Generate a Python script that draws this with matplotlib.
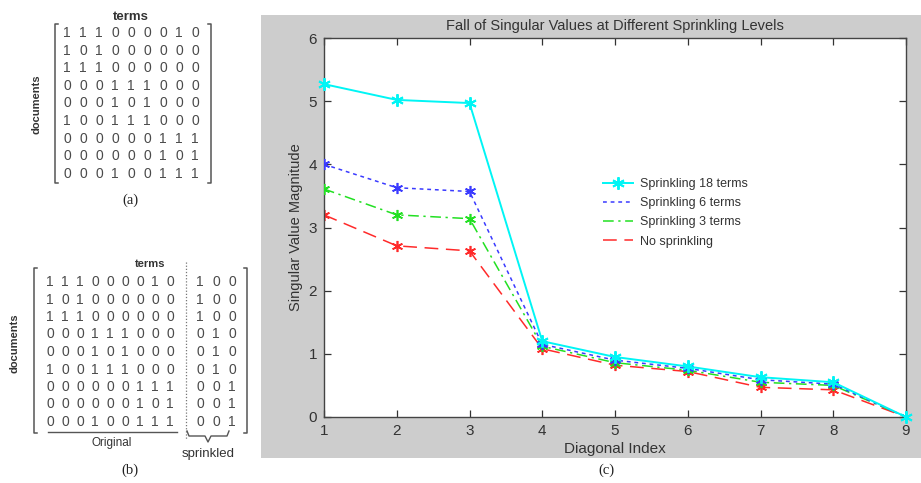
import matplotlib
matplotlib.use("Agg")
import matplotlib.pyplot as plt
from matplotlib.lines import Line2D
from matplotlib.patches import Rectangle

plt.rcParams['font.family'] = ['Liberation Sans', 'DejaVu Sans']

# ---------------- data ----------------
diag_index = [1, 2, 3, 4, 5, 6, 7, 8, 9]
sv_18 = [5.27, 5.02, 4.97, 1.20, 0.95, 0.80, 0.63, 0.55, 0.00]
sv_6 = [4.00, 3.63, 3.57, 1.15, 0.90, 0.77, 0.59, 0.52, 0.00]
sv_3 = [3.61, 3.20, 3.14, 1.12, 0.86, 0.74, 0.55, 0.50, 0.00]
sv_0 = [3.20, 2.71, 2.63, 1.08, 0.82, 0.72, 0.47, 0.43, 0.00]
series_labels = ['Sprinkling 18 terms', 'Sprinkling 6 terms',
                 'Sprinkling 3 terms', 'No sprinkling']
x_ticks = [1, 2, 3, 4, 5, 6, 7, 8, 9]
y_ticks = [0, 1, 2, 3, 4, 5, 6]

matrix_original = ["111000010", "101000000", "111000000",
                   "000111000", "000101000", "100111000",
                   "000000111", "000000101", "000100111"]
matrix_sprinkled = ["100", "100", "100", "010", "010", "010",
                    "001", "001", "001"]

W, H = 921, 483
fig = plt.figure(figsize=(W / 100, H / 100), dpi=100)
fig.patch.set_facecolor('white')


def fx(px):
    return px / W


def fy(py):
    return 1 - py / H


def ftext(px, py, s, **kw):
    fig.text(fx(px), fy(py), s, **kw)


def fline(xs, ys, **kw):
    fig.add_artist(Line2D([fx(v) for v in xs], [fy(v) for v in ys],
                          transform=fig.transFigure, **kw))


mat_col = '#4a4a4a'
br_col = '#555555'
serif = ['Liberation Serif', 'DejaVu Serif']

# ---------------- panel (a) ----------------
ftext(131, 17, 'terms', ha='center', va='center', fontsize=9.5,
      fontweight='bold', color='#333333')
for r, row in enumerate(matrix_original):
    for c, ch in enumerate(row):
        ftext(67 + c * 16.0, 33 + r * 17.6, ch, ha='center', va='center',
              fontsize=10, color=mat_col)
fline([58, 55, 55, 58], [24, 24, 183, 183], color=br_col, lw=1.1)
fline([208, 211, 211, 208], [24, 24, 183, 183], color=br_col, lw=1.1)
ftext(37, 104, 'documents', ha='center', va='center', rotation=90,
      fontsize=8, fontweight='bold', color='#333333')
ftext(130, 200, '(a)', ha='center', va='center', fontsize=10.5,
      family=serif, color='#222222')

# ---------------- panel (b) ----------------
ftext(150, 264, 'terms', ha='center', va='center', fontsize=8,
      fontweight='bold', color='#333333')
for r, row in enumerate(matrix_original):
    for c, ch in enumerate(row):
        ftext(50 + c * 15.0, 282 + r * 17.5, ch, ha='center', va='center',
              fontsize=10, color=mat_col)
for r, row in enumerate(matrix_sprinkled):
    for c, ch in enumerate(row):
        ftext(200 + c * 16.0, 282 + r * 17.5, ch, ha='center', va='center',
              fontsize=10, color=mat_col)
fline([186, 186], [262, 440], color='#777777', lw=0.9, ls=(0, (1, 1.5)))
fline([37, 34, 34, 37], [268, 268, 433, 433], color=br_col, lw=1.1)
fline([244, 247, 247, 244], [268, 268, 433, 433], color=br_col, lw=1.1)
fline([48, 177], [432, 432], color=br_col, lw=1.0)
ftext(15, 343, 'documents', ha='center', va='center', rotation=90,
      fontsize=8, fontweight='bold', color='#333333')
ftext(112, 443, 'Original', ha='center', va='center', fontsize=8.5,
      color='#333333')
fline([187, 189, 205, 208, 211, 227, 229], [431, 436, 436, 442, 436, 436, 431],
      color=br_col, lw=1.0)
ftext(208, 454, 'sprinkled', ha='center', va='center', fontsize=9.5,
      color='#333333')
ftext(130, 470, '(b)', ha='center', va='center', fontsize=10.5,
      family=serif, color='#222222')

# ---------------- panel (c) ----------------
fig.patches.append(Rectangle((fx(261), fy(458)), fx(921) - fx(261),
                             fy(15) - fy(458), transform=fig.transFigure,
                             facecolor='#cdcdcd', edgecolor='none', zorder=-5))
ax = fig.add_axes([fx(324), fy(417), fx(906) - fx(324), fy(38) - fy(417)])
ax.set_zorder(2)
ax.set_facecolor('white')

c18, c6, c3, c0 = '#00f5f5', '#3a3aff', '#22e022', '#ff2a2a'
star = (6, 2, 0)
ax.plot(diag_index, sv_0, color=c0, lw=1.1, ls=(0, (9, 5)), zorder=2)
ax.plot(diag_index, sv_0, color=c0, lw=0, marker=star, ms=8, mew=1.2, zorder=2)
ax.plot(diag_index, sv_3, color=c3, lw=1.1, ls=(0, (7, 3, 1.5, 3)), zorder=3)
ax.plot(diag_index, sv_3, color=c3, lw=0, marker=star, ms=8, mew=1.2, zorder=3)
ax.plot(diag_index, sv_6, color=c6, lw=1.1, ls=(0, (2.5, 2.5)), zorder=4)
ax.plot(diag_index, sv_6, color=c6, lw=0, marker=star, ms=8, mew=1.2, zorder=4)
ax.plot(diag_index, sv_18, color=c18, lw=1.4, marker=star, ms=9, mew=1.4,
        zorder=5, clip_on=False)

ax.set_xlim(1, 9)
ax.set_ylim(0, 6)
ax.set_xticks(x_ticks)
ax.set_yticks(y_ticks)
ax.tick_params(direction='in', length=5, width=0.9, top=True, right=True,
               labelsize=11, colors='#333333', pad=5)
for sp in ax.spines.values():
    sp.set_color('#444444')
    sp.set_linewidth(1.0)

ax.set_title('Fall of Singular Values at Different Sprinkling Levels',
             fontsize=10.5, color='#333333', pad=6)
ax.set_xlabel('Diagonal Index', fontsize=11, color='#333333', labelpad=3)
ax.set_ylabel('Singular Value Magnitude', fontsize=10.5, color='#333333',
              labelpad=4)

handles = [
    Line2D([], [], color=c18, lw=1.4, marker=star, ms=9, mew=1.4),
    Line2D([], [], color=c6, lw=1.1, ls=(0, (2.5, 2.5))),
    Line2D([], [], color=c3, lw=1.1, ls=(0, (7, 3, 1.5, 3))),
    Line2D([], [], color=c0, lw=1.1, ls=(0, (9, 5))),
]
leg = ax.legend(handles, series_labels, loc='upper left',
                bbox_to_anchor=(fx(603), fy(178)),
                bbox_transform=fig.transFigure, frameon=False, fontsize=9,
                handlelength=2.4, handletextpad=0.6, labelspacing=0.58,
                borderpad=0, borderaxespad=0)
for t in leg.get_texts():
    t.set_color('#333333')

ftext(606, 470, '(c)', ha='center', va='center', fontsize=10.5,
      family=serif, color='#222222')

fig.savefig('out.png', dpi=100)
